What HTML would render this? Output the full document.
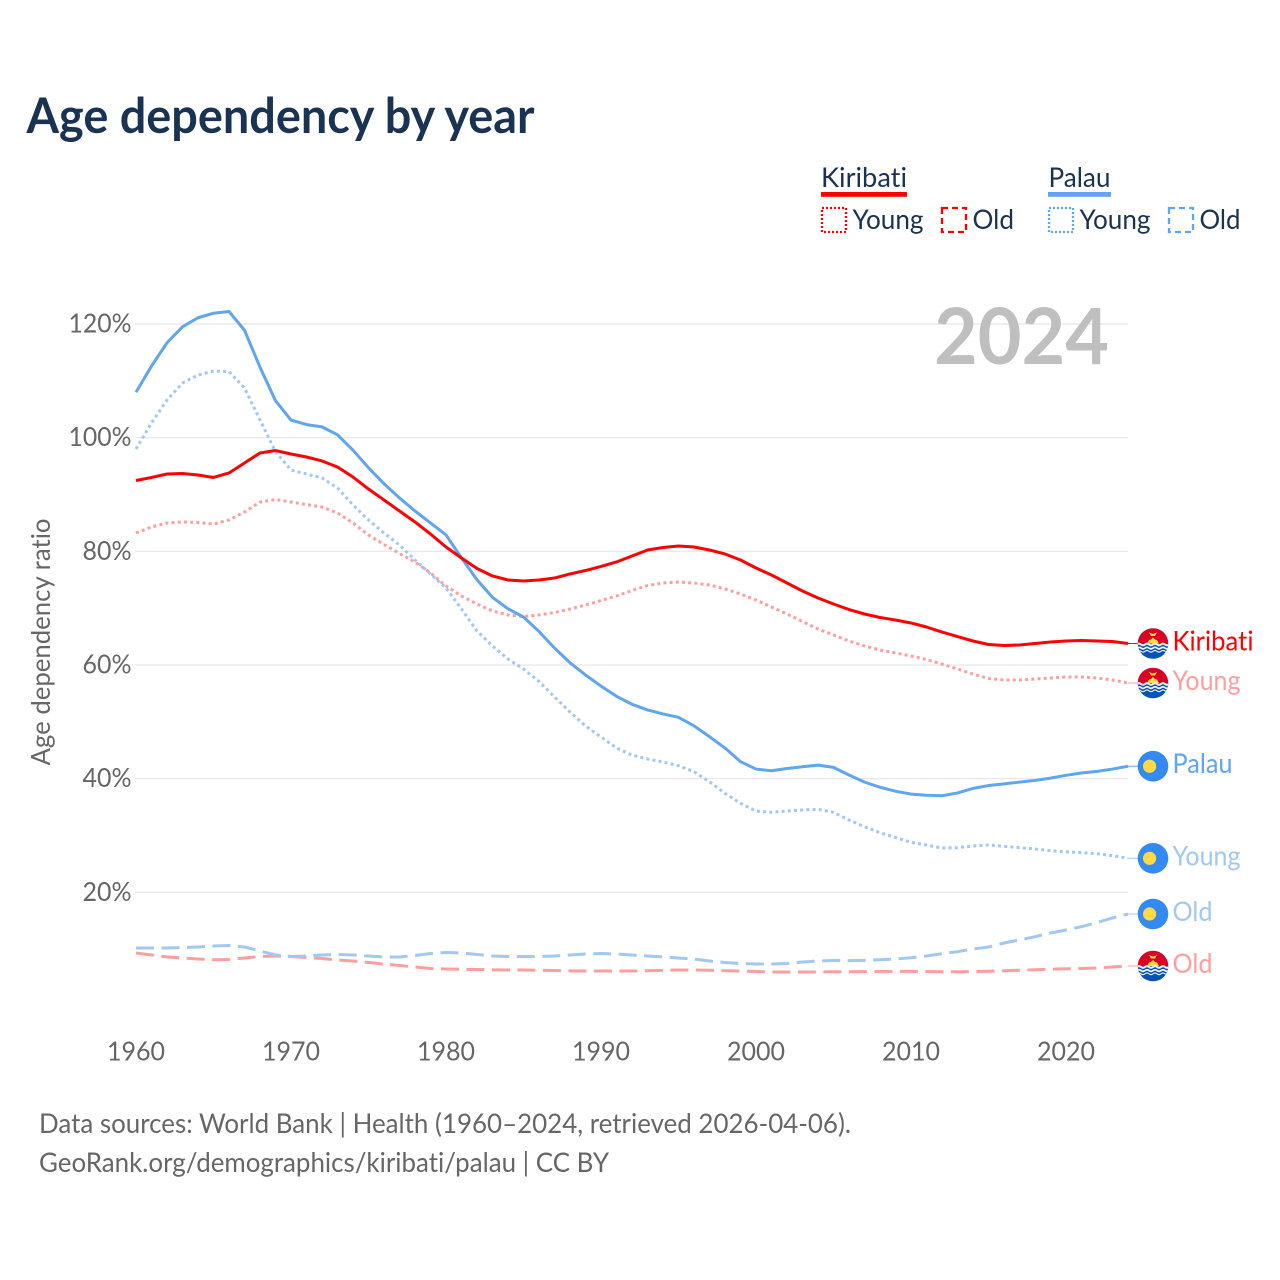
<!DOCTYPE html>
<html lang="en">
<head>
<meta charset="utf-8">
<title>Age dependency by year</title>
<style>
html,body{margin:0;padding:0;background:#fff}
svg{display:block}
text{font-family:"Lato","Carlito","Liberation Sans",sans-serif;font-variant-ligatures:none}
</style>
</head>
<body>
<svg id="chart" xmlns="http://www.w3.org/2000/svg" width="1280" height="1280" viewBox="0 0 1280 1280">
  <defs>
    <clipPath id="flag-clip"><circle cx="0" cy="0" r="15.3"/></clipPath>
    <symbol id="flag-kiribati" viewBox="-16 -16 32 32" overflow="visible">
      <g clip-path="url(#flag-clip)">
        <rect x="-16" y="-16" width="32" height="16" fill="#d80027"/>
        <polygon points="-6,0 -4,-3.5 -2,-4 0,-6 2,-4 4,-3.5 6,0" fill="#ffda44"/>
        <polygon points="-4,-11 0,-9.5 4,-11 2,-7.5 -2,-7.5" fill="#ffda44"/>
        <rect x="-16" y="0" width="32" height="16" fill="#0052b4"/>
        <path d="M-16 1q2-1.6 4 0t4 0t4 0t4 0t4 0t4 0t4 0t4 0" fill="none" stroke="#f0f0f0" stroke-width="2"/>
        <path d="M-16 4.6q2-1.6 4 0t4 0t4 0t4 0t4 0t4 0t4 0t4 0" fill="none" stroke="#f0f0f0" stroke-width="1.8"/>
        <path d="M-16 7.8q2-1.6 4 0t4 0t4 0t4 0t4 0t4 0t4 0t4 0" fill="none" stroke="#f0f0f0" stroke-width="1.2"/>
      </g>
    </symbol>
    <symbol id="flag-palau" viewBox="-16 -16 32 32" overflow="visible">
      <circle cx="0" cy="0" r="15.3" fill="#338af3"/>
      <circle cx="-3.4" cy="0" r="6.6" fill="#ffda44"/>
    </symbol>
  </defs>

  <text x="26.5" y="133" font-size="48.5" font-weight="700" fill="#1a3352" textLength="508" lengthAdjust="spacingAndGlyphs">Age dependency by year</text>

  <g>
    <g>
      <text x="821" y="187" font-size="27.5" fill="#1a3352" textLength="86" lengthAdjust="spacingAndGlyphs">Kiribati</text>
      <rect x="821" y="192" width="86" height="4.8" fill="#ff0000"/>
      <rect x="822" y="208" width="24" height="24" fill="none" stroke="#ff0000" stroke-width="2.3" stroke-dasharray="2 2"/>
      <text x="852.5" y="229" font-size="27.5" fill="#1a3352" textLength="71" lengthAdjust="spacingAndGlyphs">Young</text>
      <rect x="942" y="208" width="24" height="24" fill="none" stroke="#ff0000" stroke-width="2.3" stroke-dasharray="6 4"/>
      <text x="972.5" y="229" font-size="27.5" fill="#1a3352" textLength="41.5" lengthAdjust="spacingAndGlyphs">Old</text>
    </g>
    <g>
      <text x="1048.5" y="187" font-size="27.5" fill="#1a3352" textLength="62" lengthAdjust="spacingAndGlyphs">Palau</text>
      <rect x="1048" y="192" width="63" height="4.8" fill="#60a5ef"/>
      <rect x="1049" y="208" width="24" height="24" fill="none" stroke="#60a5ef" stroke-width="2.3" stroke-dasharray="2 2"/>
      <text x="1079.5" y="229" font-size="27.5" fill="#1a3352" textLength="71" lengthAdjust="spacingAndGlyphs">Young</text>
      <rect x="1169" y="208" width="24" height="24" fill="none" stroke="#60a5ef" stroke-width="2.3" stroke-dasharray="6 4"/>
      <text x="1199.5" y="229" font-size="27.5" fill="#1a3352" textLength="41" lengthAdjust="spacingAndGlyphs">Old</text>
    </g>
  </g>

  <g id="grid"></g>
  <text x="934" y="364" font-size="78" font-weight="700" fill="#bfbfbf" textLength="175" lengthAdjust="spacingAndGlyphs">2024</text>
  <g id="yticks"></g>
  <g id="xticks"></g>
  <text transform="translate(50,765.5) rotate(-90)" x="0" y="0" font-size="26.5" fill="#666666" textLength="247" lengthAdjust="spacingAndGlyphs">Age dependency ratio</text>

  <g id="series"></g>
  <g id="ends"></g>

  <text x="39" y="1133" font-size="27.5" fill="#666666" textLength="812" lengthAdjust="spacingAndGlyphs">Data sources: World Bank | Health (1960–2024, retrieved 2026-04-06).</text>
  <text x="39" y="1172" font-size="27.5" fill="#666666" textLength="570" lengthAdjust="spacingAndGlyphs">GeoRank.org/demographics/kiribati/palau | CC BY</text>
</svg>

<script>
const startYear = 1960;
const xTickYears = [1960, 1970, 1980, 1990, 2000, 2010, 2020];
const yTickValues = [20, 40, 60, 80, 100, 120];

const kiribatiTotal = [92.47,93.0,93.61,93.7,93.43,93.0,93.79,95.55,97.31,97.74,
  97.13,96.6,95.9,94.84,93.08,90.97,89.04,87.1,85.17,83.05,
  80.77,78.83,76.99,75.67,74.96,74.79,74.96,75.31,76.02,76.63,
  77.34,78.13,79.18,80.24,80.68,80.94,80.77,80.24,79.54,78.48,
  77.07,75.84,74.43,73.03,71.8,70.74,69.77,68.98,68.36,67.92,
  67.4,66.69,65.81,65.02,64.23,63.61,63.44,63.53,63.79,64.05,
  64.23,64.32,64.23,64.14,63.79];
const kiribatiYoung = [83.23,84.29,84.99,85.17,85.08,84.81,85.52,86.93,88.68,89.12,
  88.68,88.24,87.8,86.75,84.99,82.88,81.21,79.62,78.13,76.19,
  73.91,72.15,70.74,69.51,68.8,68.54,68.8,69.24,69.86,70.56,
  71.35,72.15,73.11,73.99,74.43,74.61,74.43,74.08,73.38,72.5,
  71.44,70.21,68.98,67.66,66.34,65.29,64.23,63.35,62.65,62.12,
  61.59,60.97,60.18,59.3,58.42,57.63,57.37,57.37,57.54,57.72,
  57.9,57.9,57.72,57.37,56.84];
const kiribatiOld = [9.34,8.99,8.64,8.46,8.28,8.16,8.19,8.46,8.73,8.81,
  8.73,8.55,8.37,8.11,7.93,7.67,7.4,7.14,6.88,6.61,
  6.52,6.47,6.43,6.38,6.35,6.35,6.29,6.26,6.2,6.17,
  6.17,6.17,6.17,6.22,6.29,6.35,6.35,6.31,6.22,6.17,
  6.08,6.0,6.0,6.0,6.0,6.04,6.05,6.08,6.1,6.1,
  6.1,6.08,6.05,6.05,6.08,6.13,6.22,6.31,6.4,6.49,
  6.56,6.61,6.7,6.88,7.05];
const palauTotal = [108.0,112.6,116.7,119.5,121.1,121.9,122.2,118.9,112.4,106.5,
  103.1,102.3,101.9,100.5,97.8,94.7,91.9,89.4,87.1,85.0,
  82.9,78.83,75.0,71.9,69.9,68.45,65.9,63.0,60.4,58.25,
  56.3,54.5,53.1,52.1,51.4,50.8,49.3,47.4,45.4,43.0,
  41.7,41.4,41.8,42.1,42.4,42.0,40.65,39.4,38.5,37.8,
  37.3,37.1,37.0,37.5,38.3,38.8,39.1,39.4,39.7,40.1,
  40.6,41.0,41.3,41.7,42.2];
const palauYoung = [98.01,102.58,106.63,109.62,111.03,111.73,111.63,108.74,103.11,97.53,
  94.31,93.61,92.91,91.15,88.16,85.52,83.23,81.12,78.48,76.02,
  73.55,69.86,65.99,63.35,61.06,59.3,57.11,54.38,51.74,49.28,
  47.34,45.41,44.17,43.47,42.94,42.3,41.24,39.48,37.43,35.68,
  34.32,34.09,34.32,34.5,34.62,34.09,32.74,31.56,30.5,29.66,
  28.81,28.34,27.81,27.87,28.16,28.34,28.11,27.87,27.64,27.34,
  27.16,26.99,26.81,26.46,26.0];
const palauOld = [10.22,10.22,10.22,10.31,10.4,10.57,10.66,10.4,9.69,8.99,
  8.73,8.81,8.99,9.08,8.99,8.81,8.64,8.64,8.9,9.25,
  9.43,9.34,9.08,8.81,8.73,8.73,8.73,8.81,8.99,9.16,
  9.25,9.16,8.99,8.81,8.64,8.46,8.28,7.93,7.67,7.49,
  7.4,7.4,7.49,7.76,7.93,8.02,8.0,8.05,8.16,8.28,
  8.51,8.81,9.22,9.57,10.04,10.4,11.1,11.63,12.21,12.86,
  13.39,13.97,14.69,15.5,16.2];

const NS = 'http://www.w3.org/2000/svg';
const xScale = function (year) { return 136 + (year - startYear) * 15.5; };
const yScale = function (value) { return 324 + (120 - value) * 5.684; };
const pointsFor = function (values) {
  return values.map(function (v, i) { return xScale(startYear + i).toFixed(2) + ',' + yScale(v).toFixed(2); }).join(' ');
};
const gridG = document.getElementById('grid');
const yTicksG = document.getElementById('yticks');
const xTicksG = document.getElementById('xticks');
const seriesG = document.getElementById('series');
const endsG = document.getElementById('ends');

yTickValues.forEach(function (v) {
  const line = document.createElementNS(NS, 'line');
  
  
  line.setAttribute('x1', 135);
  line.setAttribute('x2', 1128);
  line.setAttribute('y1', yScale(v));
  line.setAttribute('y2', yScale(v));
  line.setAttribute('stroke', '#eaeaea');
  line.setAttribute('stroke-width', '1.4');
  gridG.appendChild(line);

  const label = document.createElementNS(NS, 'text');
  
  
  label.setAttribute('x', 131.5);
  label.setAttribute('y', yScale(v) + 8.5);
  label.setAttribute('text-anchor', 'end');
  label.setAttribute('font-size', '26.5');
  label.setAttribute('fill', '#666666');
  label.setAttribute('textLength', v >= 100 ? 63 : 49);
  label.setAttribute('lengthAdjust', 'spacingAndGlyphs');
  label.textContent = v + '%';
  yTicksG.appendChild(label);
});

xTickYears.forEach(function (year) {
  const label = document.createElementNS(NS, 'text');
  
  
  label.setAttribute('x', xScale(year));
  label.setAttribute('y', 1060.5);
  label.setAttribute('text-anchor', 'middle');
  label.setAttribute('font-size', '26.5');
  label.setAttribute('fill', '#666666');
  label.setAttribute('textLength', 58);
  label.setAttribute('lengthAdjust', 'spacingAndGlyphs');
  label.textContent = year;
  xTicksG.appendChild(label);
});

const drawLine = function (el, values, colour, dash) {
  el.setAttribute('points', pointsFor(values));
  el.setAttribute('fill', 'none');
  el.setAttribute('stroke', colour);
  el.setAttribute('stroke-width', '3');
  el.setAttribute('stroke-linejoin', 'round');
  if (dash) el.setAttribute('stroke-dasharray', dash);
  seriesG.appendChild(el);
};
const drawEnd = function (g, values, colour, flagId, name, labelWidth) {
  const yEnd = yScale(values[values.length - 1]);
  const conn = document.createElementNS(NS, 'line');
  conn.setAttribute('x1', 1128);
  conn.setAttribute('x2', 1138);
  conn.setAttribute('y1', yEnd);
  conn.setAttribute('y2', yEnd);
  conn.setAttribute('stroke', colour);
  conn.setAttribute('stroke-width', '1');
  g.appendChild(conn);
  const flag = document.createElementNS(NS, 'use');
  flag.setAttribute('href', '#' + flagId);
  flag.setAttribute('x', 1153 - 16);
  flag.setAttribute('y', yEnd - 16);
  flag.setAttribute('width', 32);
  flag.setAttribute('height', 32);
  g.appendChild(flag);
  const label = document.createElementNS(NS, 'text');
  label.setAttribute('x', 1172.5);
  label.setAttribute('y', yEnd + 7);
  label.setAttribute('font-size', '27.5');
  label.setAttribute('fill', colour);
  label.setAttribute('textLength', labelWidth);
  label.setAttribute('lengthAdjust', 'spacingAndGlyphs');
  label.textContent = name;
  g.appendChild(label);
  endsG.appendChild(g);
};

const lineKiribatiOld = document.createElementNS(NS, 'polyline');


drawLine(lineKiribatiOld, kiribatiOld, '#ff9e9e', '18 7.5');

const linePalauOld = document.createElementNS(NS, 'polyline');


drawLine(linePalauOld, palauOld, '#a0c8f3', '18 7.5');

const lineKiribatiYoung = document.createElementNS(NS, 'polyline');


drawLine(lineKiribatiYoung, kiribatiYoung, '#ff9e9e', '3 3.2');

const linePalauYoung = document.createElementNS(NS, 'polyline');


drawLine(linePalauYoung, palauYoung, '#a0c8f3', '3 3.2');

const linePalauTotal = document.createElementNS(NS, 'polyline');


drawLine(linePalauTotal, palauTotal, '#60a5ef', null);

const lineKiribatiTotal = document.createElementNS(NS, 'polyline');


drawLine(lineKiribatiTotal, kiribatiTotal, '#ff0000', null);

const endKiribati = document.createElementNS(NS, 'g');


drawEnd(endKiribati, kiribatiTotal, '#ff0000', 'flag-kiribati', 'Kiribati', 81);

const endKiribatiYoung = document.createElementNS(NS, 'g');


drawEnd(endKiribatiYoung, kiribatiYoung, '#ff9e9e', 'flag-kiribati', 'Young', 68);

const endPalau = document.createElementNS(NS, 'g');


drawEnd(endPalau, palauTotal, '#60a5ef', 'flag-palau', 'Palau', 60);

const endPalauYoung = document.createElementNS(NS, 'g');


drawEnd(endPalauYoung, palauYoung, '#a0c8f3', 'flag-palau', 'Young', 68);

const endPalauOld = document.createElementNS(NS, 'g');


drawEnd(endPalauOld, palauOld, '#a0c8f3', 'flag-palau', 'Old', 40);

const endKiribatiOld = document.createElementNS(NS, 'g');


drawEnd(endKiribatiOld, kiribatiOld, '#ff9e9e', 'flag-kiribati', 'Old', 40);
</script>
</body>
</html>
